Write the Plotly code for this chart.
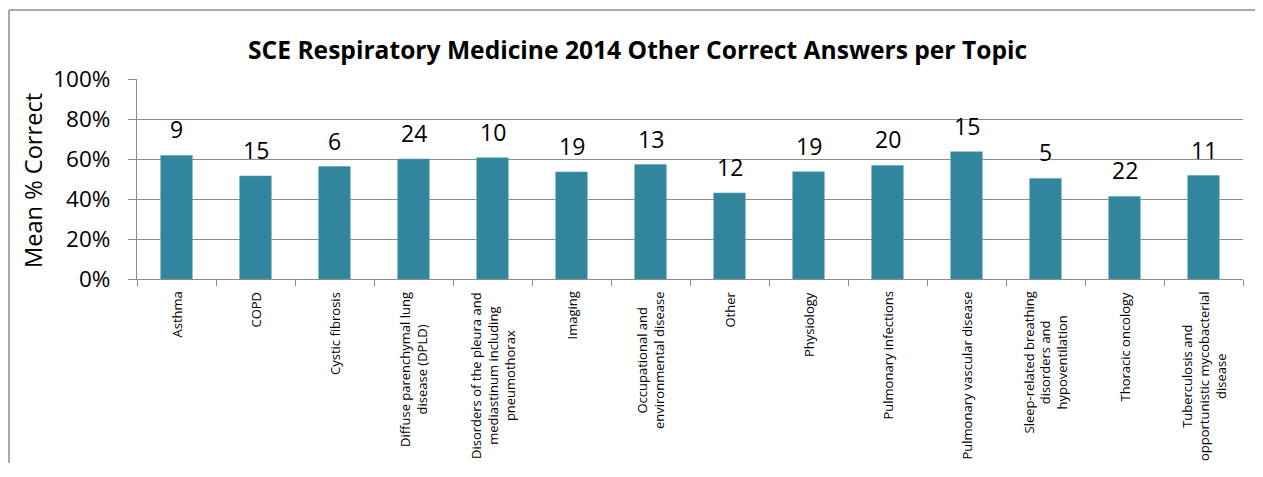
import plotly.graph_objects as go

categories = [
    "Asthma", "COPD", "Cystic fibrosis",
    "Diffuse parenchymal lung<br>disease (DPLD)",
    "Disorders of the pleura and<br>mediastinum including<br>pneumothorax",
    "Imaging",
    "Occupational and<br>environmental disease",
    "Other", "Physiology", "Pulmonary infections",
    "Pulmonary vascular disease",
    "Sleep-related breathing<br>disorders and<br>hypoventilation",
    "Thoracic oncology",
    "Tuberculosis and<br>opportunistic mycobacterial<br>disease",
]
mean_correct = [0.618, 0.515, 0.562, 0.600, 0.606, 0.535, 0.572,
                0.430, 0.536, 0.568, 0.636, 0.503, 0.413, 0.517]
question_counts = [9, 15, 6, 24, 10, 19, 13, 12, 19, 20, 15, 5, 22, 11]
y_ticks = [0, 0.2, 0.4, 0.6, 0.8, 1.0]

FONT = "Open Sans"
OFF = 8  # page offset of the figure inside the browser window (body margin)
W, H = 1263 - 2 * OFF, 455
L, T = 137 - OFF, 79 - OFF
R = OFF + W - 1243
B = H + OFF - 279
pw, ph = W - L - R, H - T - B


def px_x(x):
    return (x - 137) / pw


def px_y(y):
    return (279 - y) / ph


keys = [f"c{i}" for i in range(len(categories))]

fig = go.Figure()
fig.add_trace(go.Bar(
    x=keys, y=mean_correct,
    marker=dict(color="#31859C", line=dict(color="#5aa3b5", width=0.6)),
    width=0.4, hoverinfo="skip",
))

annotations = []
for k, v, n in zip(keys, mean_correct, question_counts):
    annotations.append(dict(x=k, y=v, xref="x", yref="y", text=str(n),
                            showarrow=False, yshift=26, yanchor="middle",
                            font=dict(family=FONT, size=23, color="#000")))
for k, c in zip(keys, categories):
    annotations.append(dict(x=k, y=0, xref="x", yref="paper", text=c,
                            showarrow=False, textangle=-90, align="center",
                            yanchor="top", xanchor="center", yshift=-11,
                            font=dict(family=FONT, size=13, color="#000")))
annotations.append(dict(x=px_x(33), y=px_y(181), xref="paper", yref="paper",
                        text="Mean % Correct", showarrow=False, textangle=-90,
                        xanchor="center", yanchor="middle",
                        font=dict(family=FONT, size=23.6, color="#000")))
annotations.append(dict(x=px_x(637), y=px_y(49), xref="paper", yref="paper",
                        text="<b>SCE Respiratory Medicine 2014 Other Correct Answers per Topic</b>",
                        showarrow=False, xanchor="center", yanchor="middle",
                        font=dict(family=FONT, size=24.6, color="#000")))

frame = dict(color="#8c8c8c", width=1.5)
shapes = [
    dict(type="line", xref="paper", yref="paper",
         x0=px_x(9), x1=px_x(1400), y0=px_y(10), y1=px_y(10), line=frame, layer="below"),
    dict(type="line", xref="paper", yref="paper",
         x0=px_x(9), x1=px_x(9), y0=px_y(10), y1=px_y(600), line=frame, layer="below"),
]

fig.update_layout(
    width=W, height=H,
    margin=dict(l=L, r=R, t=T, b=B, pad=0),
    paper_bgcolor="white", plot_bgcolor="white",
    showlegend=False, bargap=0.6,
    annotations=annotations, shapes=shapes,
    xaxis=dict(type="category", tickson="boundaries", ticks="outside", ticklen=6,
               tickcolor="#8c8c8c", showticklabels=False, showgrid=False,
               showline=True, linecolor="#8c8c8c", linewidth=1.2,
               range=[-0.5, len(categories) - 0.5]),
    yaxis=dict(range=[0, 1], tickvals=y_ticks, tickformat=".0%", ticks="outside",
               ticklen=8, tickcolor="#8c8c8c", ticklabelstandoff=13,
               tickfont=dict(family=FONT, size=22.5, color="#000"),
               showgrid=True, gridcolor="#8c8c8c", gridwidth=1,
               showline=True, linecolor="#8c8c8c", linewidth=1.2, zeroline=False),
)

fig.write_html("out.html")
